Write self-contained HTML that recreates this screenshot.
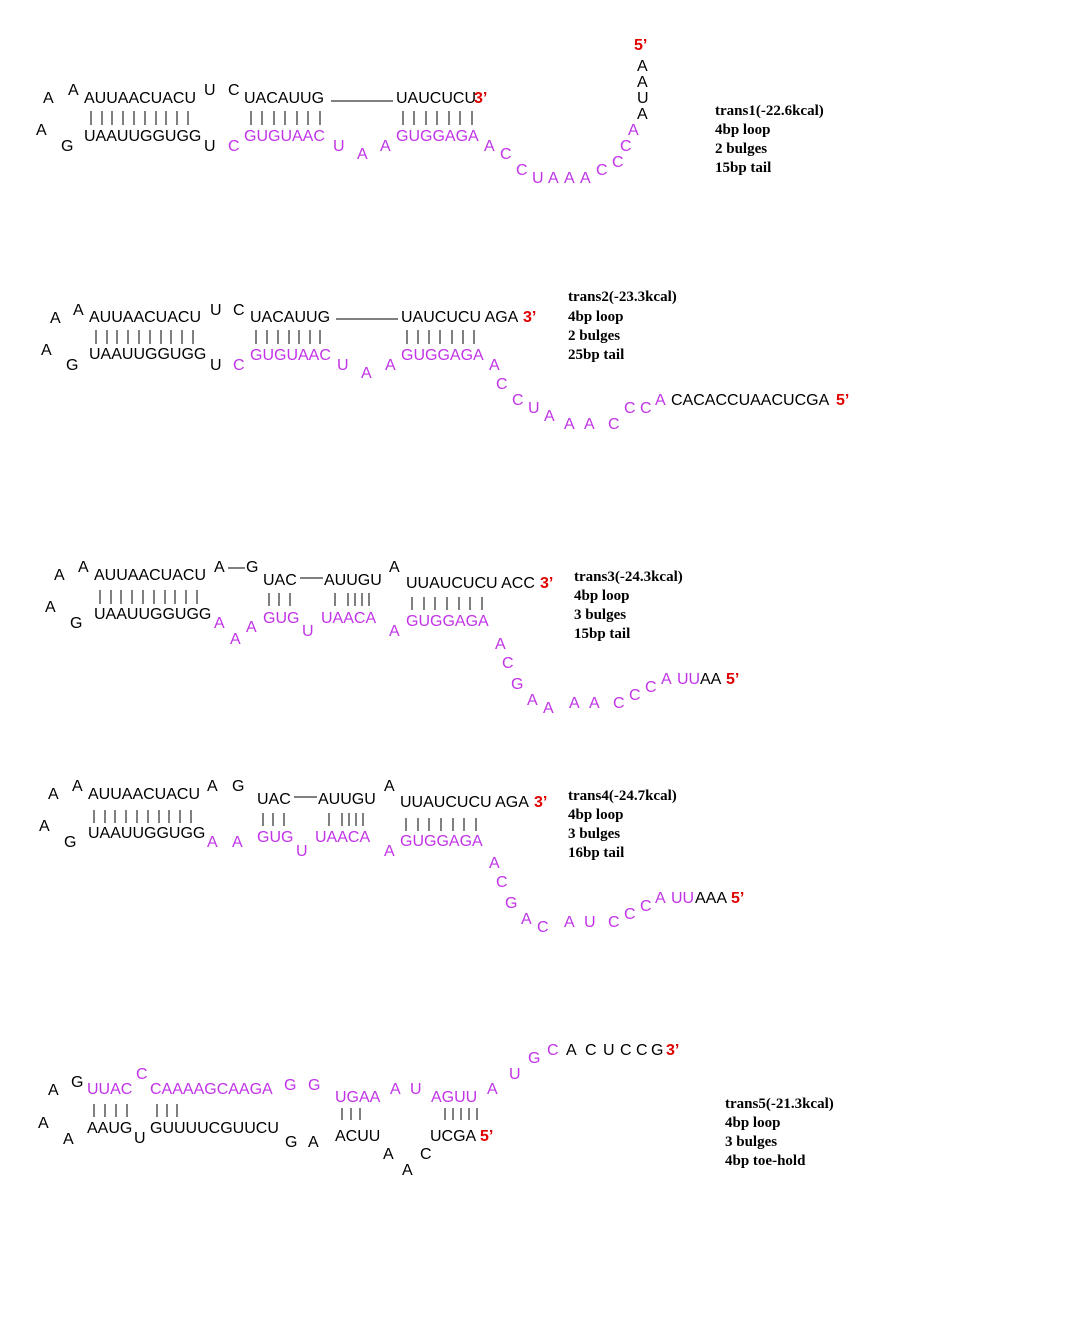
<!DOCTYPE html>
<html><head><meta charset="utf-8"><style>
body{margin:0;background:#fff;}
#c{position:relative;width:1068px;height:1320px;overflow:hidden;background:#fff;}
#c div{position:absolute;font-family:"Liberation Sans",Arial,sans-serif;font-size:16px;line-height:16px;white-space:pre;color:#000;}
#c div.p{color:#c133e6;}
#c div.r{color:#e00000;font-weight:bold;}
#c div.l{font-family:"Liberation Serif","Times New Roman",serif;font-weight:bold;font-size:15px;line-height:15px;}
svg{position:absolute;left:0;top:0;}
</style></head><body><div id="c">
<svg width="1068" height="1320" stroke="#000" stroke-width="1">
<path d="M91 111v14M102 111v14M112 111v14M123 111v14M134 111v14M145 111v14M156 111v14M166 111v14M177 111v14M188 111v14"/>
<path d="M251 111v14M262 111v14M274 111v14M285 111v14M297 111v14M308 111v14M320 111v14"/>
<path d="M403 111v14M414 111v14M426 111v14M437 111v14M449 111v14M460 111v14M472 111v14"/>
<path d="M331 101h62"/>
<path d="M96 330v14M107 330v14M117 330v14M128 330v14M139 330v14M150 330v14M161 330v14M171 330v14M182 330v14M193 330v14"/>
<path d="M256 330v14M267 330v14M278 330v14M289 330v14M299 330v14M310 330v14M320 330v14"/>
<path d="M407 330v14M418 330v14M429 330v14M440 330v14M452 330v14M463 330v14M474 330v14"/>
<path d="M336 319h62"/>
<path d="M100 590v14M111 590v14M121 590v14M132 590v14M143 590v14M154 590v14M165 590v14M175 590v14M186 590v14M197 590v14"/>
<path d="M269 593v13M279 593v13M290 593v13"/>
<path d="M335 593v13M348 593v13M355 593v13M362 593v13M369 593v13"/>
<path d="M412 597v13M424 597v13M435 597v13M447 597v13M459 597v13M470 597v13M482 597v13"/>
<path d="M228 568h17M300 578h23"/>
<path d="M94 810v13M105 810v13M115 810v13M126 810v13M137 810v13M148 810v13M159 810v13M169 810v13M180 810v13M191 810v13"/>
<path d="M263 813v13M273 813v13M284 813v13"/>
<path d="M329 813v13M342 813v13M349 813v13M356 813v13M363 813v13"/>
<path d="M406 818v13M418 818v13M429 818v13M441 818v13M453 818v13M464 818v13M476 818v13"/>
<path d="M294 797h23"/>
<path d="M94 1104v13M105 1104v13M116 1104v13M127 1104v13"/>
<path d="M157 1104v13M167 1104v13M177 1104v13"/>
<path d="M342 1108v12M351 1108v12M360 1108v12"/>
<path d="M445 1108v12M453 1108v12M461 1108v12M469 1108v12M477 1108v12"/>
</svg>

<!-- Section 1 -->
<div style="left:43px;top:91px">A</div>
<div style="left:68px;top:83px">A</div>
<div style="left:84px;top:91px">AUUAACUACU</div>
<div style="left:204px;top:83px">U</div>
<div style="left:228px;top:83px">C</div>
<div style="left:244px;top:91px">UACAUUG</div>
<div style="left:396px;top:91px">UAUCUCU</div>
<div class="r" style="left:474px;top:91px">3’</div>
<div style="left:36px;top:123px">A</div>
<div style="left:61px;top:139px">G</div>
<div style="left:84px;top:129px">UAAUUGGUGG</div>
<div style="left:204px;top:139px">U</div>
<div class="p" style="left:228px;top:139px">C</div>
<div class="p" style="left:244px;top:129px">GUGUAAC</div>
<div class="p" style="left:333px;top:139px">U</div>
<div class="p" style="left:357px;top:147px">A</div>
<div class="p" style="left:380px;top:139px">A</div>
<div class="p" style="left:396px;top:129px">GUGGAGA</div>
<div class="p" style="left:484px;top:139px">A</div>
<div class="p" style="left:500px;top:147px">C</div>
<div class="p" style="left:516px;top:163px">C</div>
<div class="p" style="left:532px;top:171px">U</div>
<div class="p" style="left:548px;top:171px">A</div>
<div class="p" style="left:564px;top:171px">A</div>
<div class="p" style="left:580px;top:171px">A</div>
<div class="p" style="left:596px;top:163px">C</div>
<div class="p" style="left:612px;top:155px">C</div>
<div class="p" style="left:620px;top:139px">C</div>
<div class="p" style="left:628px;top:123px">A</div>
<div style="left:637px;top:107px">A</div>
<div style="left:637px;top:91px">U</div>
<div style="left:637px;top:75px">A</div>
<div style="left:637px;top:59px">A</div>
<div class="r" style="left:634px;top:38px">5’</div>
<div class="l" style="left:715px;top:104px">trans1(-22.6kcal)</div>
<div class="l" style="left:715px;top:123px">4bp loop</div>
<div class="l" style="left:715px;top:142px">2 bulges</div>
<div class="l" style="left:715px;top:161px">15bp tail</div>

<!-- Section 2 -->
<div style="left:50px;top:311px">A</div>
<div style="left:73px;top:303px">A</div>
<div style="left:89px;top:310px">AUUAACUACU</div>
<div style="left:210px;top:303px">U</div>
<div style="left:233px;top:303px">C</div>
<div style="left:250px;top:310px">UACAUUG</div>
<div style="left:401px;top:310px">UAUCUCU AGA</div>
<div class="r" style="left:523px;top:310px">3’</div>
<div style="left:41px;top:343px">A</div>
<div style="left:66px;top:358px">G</div>
<div style="left:89px;top:347px">UAAUUGGUGG</div>
<div style="left:210px;top:358px">U</div>
<div class="p" style="left:233px;top:358px">C</div>
<div class="p" style="left:250px;top:348px">GUGUAAC</div>
<div class="p" style="left:337px;top:358px">U</div>
<div class="p" style="left:361px;top:366px">A</div>
<div class="p" style="left:385px;top:358px">A</div>
<div class="p" style="left:401px;top:348px">GUGGAGA</div>
<div class="p" style="left:489px;top:358px">A</div>
<div class="p" style="left:496px;top:377px">C</div>
<div class="p" style="left:512px;top:393px">C</div>
<div class="p" style="left:528px;top:401px">U</div>
<div class="p" style="left:544px;top:409px">A</div>
<div class="p" style="left:564px;top:417px">A</div>
<div class="p" style="left:584px;top:417px">A</div>
<div class="p" style="left:608px;top:417px">C</div>
<div class="p" style="left:624px;top:401px">C</div>
<div class="p" style="left:640px;top:401px">C</div>
<div class="p" style="left:655px;top:393px">A</div>
<div style="left:671px;top:393px">CACACCUAACUCGA</div>
<div class="r" style="left:836px;top:393px">5’</div>
<div class="l" style="left:568px;top:290px">trans2(-23.3kcal)</div>
<div class="l" style="left:568px;top:310px">4bp loop</div>
<div class="l" style="left:568px;top:329px">2 bulges</div>
<div class="l" style="left:568px;top:348px">25bp tail</div>

<!-- Section 3 -->
<div style="left:54px;top:568px">A</div>
<div style="left:78px;top:560px">A</div>
<div style="left:94px;top:568px">AUUAACUACU</div>
<div style="left:214px;top:560px">A</div>
<div style="left:246px;top:560px">G</div>
<div style="left:263px;top:573px">UAC</div>
<div style="left:324px;top:573px">AUUGU</div>
<div style="left:389px;top:560px">A</div>
<div style="left:406px;top:576px">UUAUCUCU ACC</div>
<div class="r" style="left:540px;top:576px">3’</div>
<div style="left:45px;top:600px">A</div>
<div style="left:70px;top:616px">G</div>
<div style="left:94px;top:607px">UAAUUGGUGG</div>
<div class="p" style="left:214px;top:616px">A</div>
<div class="p" style="left:230px;top:632px">A</div>
<div class="p" style="left:246px;top:620px">A</div>
<div class="p" style="left:263px;top:611px">GUG</div>
<div class="p" style="left:302px;top:624px">U</div>
<div class="p" style="left:321px;top:611px">UAACA</div>
<div class="p" style="left:389px;top:624px">A</div>
<div class="p" style="left:406px;top:614px">GUGGAGA</div>
<div class="p" style="left:495px;top:637px">A</div>
<div class="p" style="left:502px;top:656px">C</div>
<div class="p" style="left:511px;top:677px">G</div>
<div class="p" style="left:527px;top:693px">A</div>
<div class="p" style="left:543px;top:701px">A</div>
<div class="p" style="left:569px;top:696px">A</div>
<div class="p" style="left:589px;top:696px">A</div>
<div class="p" style="left:613px;top:696px">C</div>
<div class="p" style="left:629px;top:688px">C</div>
<div class="p" style="left:645px;top:680px">C</div>
<div class="p" style="left:661px;top:672px">A</div>
<div class="p" style="left:677px;top:672px">UU</div>
<div style="left:700px;top:672px">AA</div>
<div class="r" style="left:726px;top:672px">5’</div>
<div class="l" style="left:574px;top:570px">trans3(-24.3kcal)</div>
<div class="l" style="left:574px;top:589px">4bp loop</div>
<div class="l" style="left:574px;top:608px">3 bulges</div>
<div class="l" style="left:574px;top:627px">15bp tail</div>

<!-- Section 4 -->
<div style="left:48px;top:787px">A</div>
<div style="left:72px;top:779px">A</div>
<div style="left:88px;top:787px">AUUAACUACU</div>
<div style="left:207px;top:779px">A</div>
<div style="left:232px;top:779px">G</div>
<div style="left:257px;top:792px">UAC</div>
<div style="left:318px;top:792px">AUUGU</div>
<div style="left:384px;top:779px">A</div>
<div style="left:400px;top:795px">UUAUCUCU AGA</div>
<div class="r" style="left:534px;top:795px">3’</div>
<div style="left:39px;top:819px">A</div>
<div style="left:64px;top:835px">G</div>
<div style="left:88px;top:826px">UAAUUGGUGG</div>
<div class="p" style="left:207px;top:835px">A</div>
<div class="p" style="left:232px;top:835px">A</div>
<div class="p" style="left:257px;top:830px">GUG</div>
<div class="p" style="left:296px;top:844px">U</div>
<div class="p" style="left:315px;top:830px">UAACA</div>
<div class="p" style="left:384px;top:844px">A</div>
<div class="p" style="left:400px;top:834px">GUGGAGA</div>
<div class="p" style="left:489px;top:856px">A</div>
<div class="p" style="left:496px;top:875px">C</div>
<div class="p" style="left:505px;top:896px">G</div>
<div class="p" style="left:521px;top:912px">A</div>
<div class="p" style="left:537px;top:920px">C</div>
<div class="p" style="left:564px;top:915px">A</div>
<div class="p" style="left:584px;top:915px">U</div>
<div class="p" style="left:608px;top:915px">C</div>
<div class="p" style="left:624px;top:907px">C</div>
<div class="p" style="left:640px;top:899px">C</div>
<div class="p" style="left:655px;top:891px">A</div>
<div class="p" style="left:671px;top:891px">UU</div>
<div style="left:695px;top:891px">AAA</div>
<div class="r" style="left:731px;top:891px">5’</div>
<div class="l" style="left:568px;top:789px">trans4(-24.7kcal)</div>
<div class="l" style="left:568px;top:808px">4bp loop</div>
<div class="l" style="left:568px;top:827px">3 bulges</div>
<div class="l" style="left:568px;top:846px">16bp tail</div>

<!-- Section 5 -->
<div style="left:48px;top:1083px">A</div>
<div style="left:71px;top:1075px">G</div>
<div class="p" style="left:87px;top:1082px">UUAC</div>
<div class="p" style="left:136px;top:1067px">C</div>
<div class="p" style="left:150px;top:1082px">CAAAAGCAAGA</div>
<div class="p" style="left:284px;top:1078px">G</div>
<div class="p" style="left:308px;top:1078px">G</div>
<div class="p" style="left:335px;top:1090px">UGAA</div>
<div class="p" style="left:390px;top:1082px">A</div>
<div class="p" style="left:410px;top:1082px">U</div>
<div class="p" style="left:431px;top:1090px">AGUU</div>
<div class="p" style="left:487px;top:1082px">A</div>
<div class="p" style="left:509px;top:1067px">U</div>
<div class="p" style="left:528px;top:1051px">G</div>
<div class="p" style="left:547px;top:1043px">C</div>
<div style="left:566px;top:1043px">A</div>
<div style="left:585px;top:1043px">C</div>
<div style="left:603px;top:1043px">U</div>
<div style="left:620px;top:1043px">C</div>
<div style="left:636px;top:1043px">C</div>
<div style="left:651px;top:1043px">G</div>
<div class="r" style="left:666px;top:1043px">3’</div>
<div style="left:38px;top:1116px">A</div>
<div style="left:63px;top:1132px">A</div>
<div style="left:87px;top:1121px">AAUG</div>
<div style="left:134px;top:1131px">U</div>
<div style="left:150px;top:1121px">GUUUUCGUUCU</div>
<div style="left:285px;top:1135px">G</div>
<div style="left:308px;top:1135px">A</div>
<div style="left:335px;top:1129px">ACUU</div>
<div style="left:383px;top:1147px">A</div>
<div style="left:402px;top:1163px">A</div>
<div style="left:420px;top:1147px">C</div>
<div style="left:430px;top:1129px">UCGA</div>
<div class="r" style="left:480px;top:1129px">5’</div>
<div class="l" style="left:725px;top:1097px">trans5(-21.3kcal)</div>
<div class="l" style="left:725px;top:1116px">4bp loop</div>
<div class="l" style="left:725px;top:1135px">3 bulges</div>
<div class="l" style="left:725px;top:1154px">4bp toe-hold</div>
</div></body></html>
